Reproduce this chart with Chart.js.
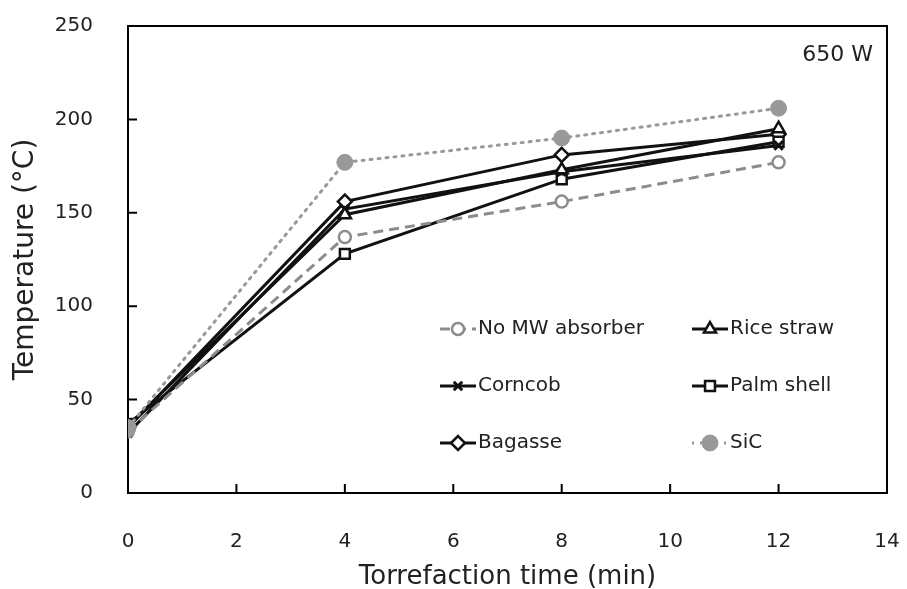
<!DOCTYPE html>
<html>
<head>
<meta charset="utf-8">
<script src="https://cdn.jsdelivr.net/npm/chart.js"></script>
<style>
  body { margin: 0; background: #fff; }
  #wrap { width: 907px; height: 589px; }
</style>
</head>
<body>
<div id="wrap"><canvas id="myChart"></canvas></div>
<script>
/* Data section */
var times = [0, 4, 8, 12];
var noAbsorber = [33, 137, 156, 177];
var riceStraw = [36, 149, 173, 195];
var corncob = [32, 152, 172, 186];
var palmShell = [37, 128, 168, 188];
var bagasse = [35, 156, 181, 192];
var sic = [35, 177, 190, 206];
var xTicks = [0, 2, 4, 6, 8, 10, 12, 14];
var yTicks = [0, 50, 100, 150, 200, 250];

var FONT = '"DejaVu Sans", sans-serif';

function pts(vals) {
    return vals.map(function (v, i) { return { x: times[i], y: v }; });
}

/* box frame + inward tick marks */
var frameTicks = {
    id: 'frameTicks',
    beforeDatasetsDraw: function (chart) {
        var ctx = chart.ctx, a = chart.chartArea;
        var xs = chart.scales.x, ys = chart.scales.y;
        ctx.save();
        ctx.strokeStyle = '#000';
        ctx.lineWidth = 2;
        ctx.beginPath();
        ctx.moveTo(a.left, a.top);
        ctx.lineTo(a.right, a.top);
        ctx.lineTo(a.right, a.bottom);
        xTicks.forEach(function (v) {
            var px = xs.getPixelForValue(v);
            ctx.moveTo(px, a.bottom);
            ctx.lineTo(px, a.bottom - 9);
        });
        yTicks.forEach(function (v) {
            var py = ys.getPixelForValue(v);
            ctx.moveTo(a.left, py);
            ctx.lineTo(a.left + 9, py);
        });
        ctx.stroke();
        ctx.restore();
    }
};

/* legend drawn inside the plot, two columns */
var insideLegend = {
    id: 'insideLegend',
    afterDraw: function (chart) {
        var ctx = chart.ctx;
        var cols = [440, 692];
        var rows = [329, 386, 443];
        chart.data.datasets.forEach(function (ds, i) {
            var x = cols[i % 2], y = rows[Math.floor(i / 2)];
            ctx.save();
            ctx.strokeStyle = ds.borderColor;
            ctx.lineWidth = ds.borderWidth;
            ctx.setLineDash(ds.borderDash || []);
            ctx.beginPath();
            ctx.moveTo(x, y);
            ctx.lineTo(x + 36, y);
            ctx.stroke();
            ctx.setLineDash([]);
            ctx.fillStyle = ds.pointBackgroundColor;
            ctx.strokeStyle = ds.pointBorderColor;
            ctx.lineWidth = ds.pointBorderWidth;
            Chart.helpers.drawPoint(ctx, {
                pointStyle: ds.pointStyle,
                radius: ds.pointRadius,
                rotation: 0,
                borderWidth: ds.pointBorderWidth
            }, x + 18, y);
            ctx.fillStyle = '#222';
            ctx.font = '20px ' + FONT;
            ctx.textBaseline = 'middle';
            ctx.fillText(ds.label, x + 38, y);
            ctx.restore();
        });
        ctx.save();
        ctx.fillStyle = '#222';
        ctx.font = '22px ' + FONT;
        ctx.textAlign = 'right';
        ctx.textBaseline = 'middle';
        ctx.fillText('650 W', chart.chartArea.right - 14, 55);
        ctx.restore();
    }
};

var ctx = document.getElementById('myChart').getContext('2d');
var myChart = new Chart(ctx, {
    type: 'line',
    data: {
        datasets: [{
            label: 'No MW absorber',
            data: pts(noAbsorber),
            borderColor: '#8c8c8c',
            borderWidth: 3,
            borderDash: [10, 6],
            pointStyle: 'circle',
            pointRadius: 6,
            pointBackgroundColor: '#fff',
            pointBorderColor: '#8c8c8c',
            pointBorderWidth: 2.5,
            order: 2
        }, {
            label: 'Rice straw',
            data: pts(riceStraw),
            borderColor: '#111',
            borderWidth: 3,
            pointStyle: 'triangle',
            pointRadius: 7,
            pointBackgroundColor: '#fff',
            pointBorderColor: '#111',
            pointBorderWidth: 2.5,
            order: 2
        }, {
            label: 'Corncob',
            data: pts(corncob),
            borderColor: '#111',
            borderWidth: 3,
            pointStyle: 'crossRot',
            pointRadius: 6,
            pointBackgroundColor: '#111',
            pointBorderColor: '#111',
            pointBorderWidth: 3,
            order: 2
        }, {
            label: 'Palm shell',
            data: pts(palmShell),
            borderColor: '#111',
            borderWidth: 3,
            pointStyle: 'rect',
            pointRadius: 7,
            pointBackgroundColor: '#fff',
            pointBorderColor: '#111',
            pointBorderWidth: 2.5,
            order: 2
        }, {
            label: 'Bagasse',
            data: pts(bagasse),
            borderColor: '#111',
            borderWidth: 3,
            pointStyle: 'rectRot',
            pointRadius: 7,
            pointBackgroundColor: '#fff',
            pointBorderColor: '#111',
            pointBorderWidth: 2.5,
            order: 2
        }, {
            label: 'SiC',
            data: pts(sic),
            borderColor: '#999',
            borderWidth: 3,
            borderDash: [2, 6],
            borderCapStyle: 'round',
            pointStyle: 'circle',
            pointRadius: 8,
            pointBackgroundColor: '#999',
            pointBorderColor: '#999',
            pointBorderWidth: 1,
            order: 1
        }]
    },
    options: {
        responsive: true,
        maintainAspectRatio: false,
        animation: false,
        layout: { padding: { top: 0, right: 20, left: 0, bottom: 0 } },
        plugins: {
            legend: { display: false },
            tooltip: { enabled: false }
        },
        scales: {
            x: {
                type: 'linear',
                min: 0,
                max: 14,
                afterBuildTicks: function (s) { s.ticks = xTicks.map(function (v) { return { value: v }; }); },
                afterFit: function (s) { s.height = 96; },
                // hidden grid, tickLength only used as label spacing
                grid: { display: false, tickLength: 40 },
                border: { color: '#000', width: 2 },
                ticks: { color: '#222', font: { family: FONT, size: 20 }, padding: -3, maxRotation: 0 },
                title: { display: true, text: 'Torrefaction time (min)', color: '#222', font: { family: FONT, size: 26 }, padding: { top: 4, bottom: -4 } }
            },
            y: {
                min: 0,
                max: 250,
                afterBuildTicks: function (s) { s.ticks = yTicks.map(function (v) { return { value: v }; }); },
                afterFit: function (s) { s.width = 128; },
                grid: { display: false, tickLength: 21 },
                border: { color: '#000', width: 2 },
                ticks: { color: '#222', font: { family: FONT, size: 20 }, padding: 14 },
                title: { display: true, text: 'Temperature (°C)', color: '#222', font: { family: FONT, size: 28 }, padding: { top: 9, bottom: 4 } }
            }
        }
    },
    plugins: [frameTicks, insideLegend]
});
</script>
</body>
</html>
